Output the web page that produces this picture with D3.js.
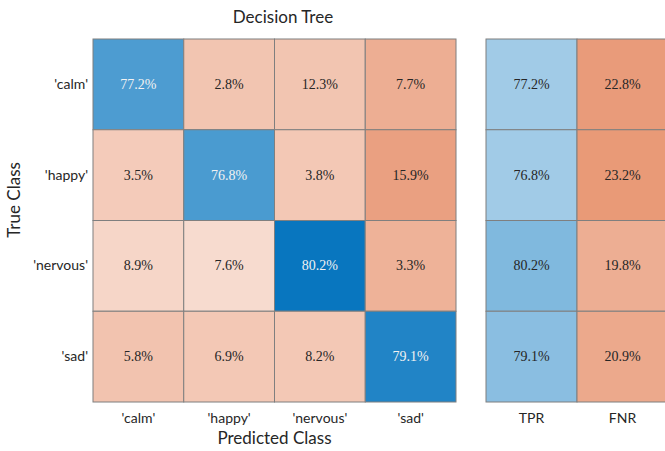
<!DOCTYPE html>
<html><head><meta charset="utf-8">
<script src="https://cdn.jsdelivr.net/npm/d3@7"></script>
<style>
html,body{margin:0;padding:0;background:#fff;}
svg{display:block;}
</style></head>
<body><svg id="c" width="665" height="451"></svg>
<script>
// ---- data ----
const classes = ["'calm'", "'happy'", "'nervous'", "'sad'"];
const summaryLabels = ["TPR", "FNR"];
// row-normalized percentages (true class rows, predicted class columns)
const pct = [
  [77.2, 2.8, 12.3, 7.7],
  [3.5, 76.8, 3.8, 15.9],
  [8.9, 7.6, 80.2, 3.3],
  [5.8, 6.9, 8.2, 79.1]
];
// colour intensity of each cell (0 = white, 1 = full)
const shade = [
  [0.70, 0.34, 0.34, 0.47],
  [0.30, 0.71, 0.32, 0.55],
  [0.24, 0.21, 0.97, 0.45],
  [0.35, 0.32, 0.32, 0.87]
];
const tpr = [77.2, 76.8, 80.2, 79.1];
const fnr = [22.8, 23.2, 19.8, 20.9];
const tprShade = [0.37, 0.37, 0.50, 0.46];
const fnrShade = [0.58, 0.59, 0.47, 0.50];

// ---- layout ----
const svg = d3.select("#c");
const M = {left: 93, top: 39, right: 456, bottom: 402};
const S = {left: 486, right: 668};
const sans = "Lato, 'Open Sans', sans-serif";
const serif = "'Liberation Serif', 'DejaVu Serif', serif";
const blue = d3.interpolateRgb("#ffffff", "#0072BD");
const orange = d3.interpolateRgb("#ffffff", "#D95319");

const x = d3.scaleBand().domain(d3.range(classes.length)).range([M.left, M.right]);
const y = d3.scaleBand().domain(d3.range(classes.length)).range([M.top, M.bottom]);
const xs = d3.scaleBand().domain(d3.range(summaryLabels.length)).range([S.left, S.right]);

const cells = [];
pct.forEach((row, i) => row.forEach((v, j) => cells.push({i, j, v, s: shade[i][j]})));

const g = svg.append("g");
g.selectAll("rect.cell").data(cells).join("rect")
  .attr("x", d => x(d.j)).attr("y", d => y(d.i))
  .attr("width", x.bandwidth()).attr("height", y.bandwidth())
  .attr("fill", d => d.i === d.j ? blue(d.s) : orange(d.s))
  .attr("stroke", "#7f7f7f").attr("stroke-width", 1);
g.selectAll("text.cell").data(cells).join("text")
  .attr("x", d => x(d.j) + x.bandwidth() / 2).attr("y", d => y(d.i) + y.bandwidth() / 2)
  .attr("text-anchor", "middle").attr("dominant-baseline", "central")
  .attr("font-family", serif).attr("font-size", 14)
  .attr("fill", d => d.i === d.j ? "#f2f2f2" : "#262626")
  .text(d => d.v.toFixed(1) + "%");

// summary
const scells = [];
tpr.forEach((v, i) => scells.push({i, j: 0, v, c: blue(tprShade[i])}));
fnr.forEach((v, i) => scells.push({i, j: 1, v, c: orange(fnrShade[i])}));
g.selectAll("rect.sum").data(scells).join("rect")
  .attr("x", d => xs(d.j)).attr("y", d => y(d.i))
  .attr("width", xs.bandwidth()).attr("height", y.bandwidth())
  .attr("fill", d => d.c).attr("stroke", "#7f7f7f").attr("stroke-width", 1);
g.selectAll("text.sum").data(scells).join("text")
  .attr("x", d => xs(d.j) + xs.bandwidth() / 2).attr("y", d => y(d.i) + y.bandwidth() / 2)
  .attr("text-anchor", "middle").attr("dominant-baseline", "central")
  .attr("font-family", serif).attr("font-size", 14).attr("fill", "#262626")
  .text(d => d.v.toFixed(1) + "%");

// axes
const yAxis = d3.axisLeft(y).tickSize(0).tickPadding(5).tickFormat(i => classes[i]);
const yg = svg.append("g").attr("transform", `translate(${M.left},0)`).call(yAxis);
const xAxis = d3.axisBottom(x).tickSize(0).tickPadding(11).tickFormat(i => classes[i]);
const xg = svg.append("g").attr("transform", `translate(0,${M.bottom})`).call(xAxis);
const xsAxis = d3.axisBottom(xs).tickSize(0).tickPadding(11).tickFormat(i => summaryLabels[i]);
const xsg = svg.append("g").attr("transform", `translate(0,${M.bottom})`).call(xsAxis);
[yg, xg, xsg].forEach(a => {
  a.select(".domain").remove();
  a.selectAll("text").attr("font-family", sans).attr("font-size", 14).attr("fill", "#262626");
});

svg.append("text").attr("x", (M.left + M.right) / 2).attr("y", 444)
  .attr("text-anchor", "middle").attr("font-family", sans).attr("font-size", 17)
  .attr("fill", "#262626").text("Predicted Class");
svg.append("text").attr("transform", `translate(20,200) rotate(-90)`)
  .attr("text-anchor", "middle").attr("font-family", sans).attr("font-size", 17)
  .attr("fill", "#262626").text("True Class");
svg.append("text").attr("x", 283).attr("y", 23)
  .attr("text-anchor", "middle").attr("font-family", sans).attr("font-size", 17)
  .attr("fill", "#262626").text("Decision Tree");
</script></body></html>
